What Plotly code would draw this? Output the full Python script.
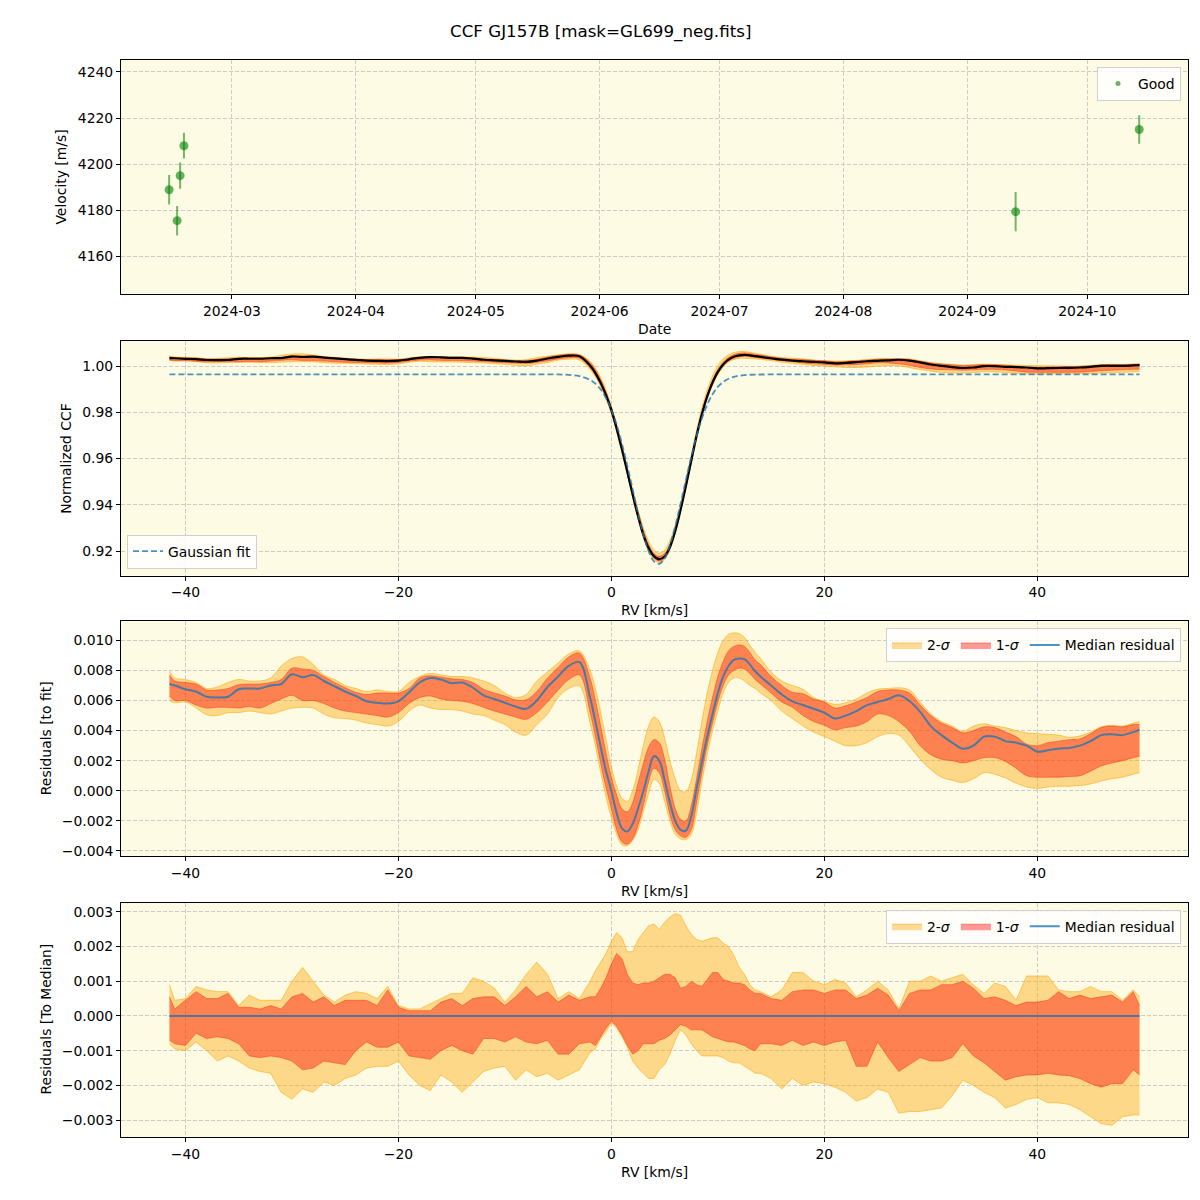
import numpy as np
import plotly.graph_objects as go

# ---------------- Panel 1: radial velocities ----------------
obs_dates = ["2024-02-14 07:00", "2024-02-16 07:00", "2024-02-17 01:00",
             "2024-02-18 00:00", "2024-09-13 02:00", "2024-10-14 00:00"]
obs_vel = [4188.9, 4175.5, 4195.0, 4208.0, 4179.4, 4215.0]
obs_err = [6.4, 6.4, 5.7, 5.6, 8.5, 6.2]

# ---------------- RV grid (km/s) ----------------
rv = [-41.5, -41, -40, -39, -38, -37, -36, -35, -34, -33, -32, -31, -30, -29, -28,
      -27, -26, -25, -24, -23, -22, -21, -20, -19, -18, -17, -16, -15, -14, -13,
      -12, -11, -10, -9, -8, -7, -6, -5, -4, -3, -2, -1.5, -1, -0.5, 0, 0.5, 1,
      1.5, 2, 2.5, 3, 3.5, 4, 4.5, 5, 5.5, 6, 6.5, 7, 7.5, 8, 8.5, 9, 9.5, 10,
      10.5, 11, 11.5, 12, 12.5, 13, 13.5, 14, 15, 16, 17, 18, 19, 20, 21, 22, 23,
      24, 25, 26, 27, 28, 29, 30, 31, 32, 33, 34, 35, 36, 37, 38, 39, 40, 41, 42,
      43, 44, 45, 46, 47, 48, 49, 49.6]

# Gaussian fit of the CCF
gauss_fit = [0.9964, 0.9964, 0.9964, 0.9964, 0.9964, 0.9964, 0.9964, 0.9964, 0.9964, 0.9964,
             0.9964, 0.9964, 0.9964, 0.9964, 0.9964, 0.9964, 0.9964, 0.9964, 0.9964, 0.9964,
             0.9964, 0.9964, 0.9964, 0.9964, 0.9964, 0.9964, 0.9964, 0.9964, 0.9964, 0.9964,
             0.9964, 0.9964, 0.9964, 0.9964, 0.9964, 0.9964, 0.9964, 0.9964,
             0.99622, 0.99569, 0.99405, 0.99240, 0.98986, 0.98617, 0.98110, 0.97447,
             0.96631, 0.95686, 0.94664, 0.93644, 0.92722, 0.91997, 0.91553, 0.91447,
             0.91692, 0.92257, 0.93073, 0.94047, 0.95078, 0.96077, 0.96975, 0.97732,
             0.98331, 0.98781, 0.99100, 0.99314, 0.99452, 0.99536, 0.99585, 0.99612,
             0.99627, 0.99634, 0.99637,
             0.9964, 0.9964, 0.9964, 0.9964, 0.9964, 0.9964, 0.9964, 0.9964, 0.9964, 0.9964,
             0.9964, 0.9964, 0.9964, 0.9964, 0.9964, 0.9964, 0.9964, 0.9964, 0.9964, 0.9964,
             0.9964, 0.9964, 0.9964, 0.9964, 0.9964, 0.9964, 0.9964, 0.9964, 0.9964, 0.9964,
             0.9964, 0.9964, 0.9964, 0.9964, 0.9964, 0.9964]

# Residuals to fit (units of 1e-3)
res_med = [7.1, 7.0, 6.75, 6.6, 6.25, 6.2, 6.25, 6.75, 6.8, 6.8, 7.0, 7.1, 7.75, 7.55, 7.7,
           7.3, 6.95, 6.6, 6.3, 5.95, 5.85, 5.8, 5.95, 6.55, 7.2, 7.5, 7.4, 7.15, 7.2, 6.85,
           6.35, 6.1, 5.85, 5.6, 5.45, 6.0, 6.9, 7.6, 8.3, 8.55, 6.2, 4.6, 2.9, 1.3, 0.0,
           -1.5, -2.5, -2.7, -2.2, -1.2, -0.05, 1.3, 2.3, 2.0, 0.7, -0.8, -2.0, -2.6, -2.65,
           -1.7, 0.15, 1.9, 3.6, 5.1, 6.5, 7.6, 8.3, 8.7, 8.8, 8.75, 8.4, 7.95, 7.6,
           7.0, 6.4, 5.95, 5.7, 5.45, 5.2, 4.8, 5.0, 5.3, 5.7, 5.9, 6.1, 6.35, 5.95, 5.25,
           4.3, 3.7, 3.2, 2.8, 3.0, 3.6, 3.6, 3.3, 3.2, 3.0, 2.6, 2.7, 2.8, 2.85, 3.0, 3.3,
           3.7, 3.75, 3.7, 3.9, 4.05]
res_1s_hi = [7.7, 7.3, 7.2, 7.1, 6.7, 6.7, 6.8, 7.05, 7.1, 7.1, 7.2, 7.4, 8.15, 8.1, 8.0,
             7.6, 7.2, 6.85, 6.55, 6.4, 6.5, 6.5, 6.5, 6.8, 7.5, 7.65, 7.55, 7.45, 7.4, 7.2,
             6.75, 6.5, 6.3, 6.05, 6.05, 6.6, 7.5, 8.2, 8.9, 9.15, 7.5, 6.0, 4.3, 2.5, 0.9,
             -0.3, -1.2, -1.4, -0.8, 0.5, 1.8, 2.9, 3.4, 3.2, 2.1, 0.3, -1.2, -1.9, -2.0,
             -1.0, 0.8, 2.8, 4.6, 6.2, 7.6, 8.6, 9.3, 9.6, 9.7, 9.6, 9.2, 8.7, 8.4,
             7.6, 7.0, 6.55, 6.45, 6.1, 5.9, 5.5, 5.65, 5.9, 6.2, 6.6, 6.7, 6.7, 6.5, 5.7,
             5.0, 4.5, 4.2, 3.85, 4.0, 4.25, 4.2, 3.9, 3.6, 3.1, 3.0, 3.2, 3.3, 3.4, 3.45,
             3.8, 4.2, 4.3, 4.25, 4.4, 4.4]
res_1s_lo = [6.3, 6.0, 6.0, 5.7, 5.5, 5.55, 5.55, 5.5, 5.6, 5.5, 5.8, 6.1, 6.35, 6.0, 6.0,
             5.8, 5.5, 5.3, 5.2, 5.1, 5.0, 4.9, 5.2, 5.8, 6.2, 6.3, 6.1, 6.0, 5.95, 5.8,
             5.55, 5.3, 5.1, 4.9, 4.75, 5.2, 5.9, 6.7, 7.4, 7.7, 5.2, 3.6, 1.8, 0.2, -1.2,
             -2.6, -3.4, -3.55, -3.2, -2.3, -1.0, 0.6, 1.5, 1.2, 0.0, -1.6, -2.6, -3.0, -3.1,
             -2.6, -0.8, 1.2, 3.0, 4.5, 5.9, 7.0, 7.7, 8.0, 8.15, 8.1, 7.8, 7.4, 7.1,
             6.5, 5.9, 5.55, 5.0, 4.6, 4.35, 4.05, 4.2, 4.3, 4.6, 5.1, 5.0, 4.6, 3.95, 3.0,
             2.4, 2.1, 2.0, 1.85, 2.0, 2.2, 2.2, 1.95, 1.5, 1.0, 0.9, 0.9, 0.9, 0.95, 1.0,
             1.3, 1.65, 1.85, 2.0, 2.2, 2.3]
res_2s_hi = [8.0, 7.5, 7.4, 7.2, 6.8, 6.9, 7.2, 7.4, 7.3, 7.3, 7.5, 8.3, 8.8, 8.9, 8.4,
             7.7, 7.4, 7.0, 6.8, 6.6, 6.7, 6.6, 6.6, 7.2, 7.6, 7.8, 7.7, 7.6, 7.6, 7.5,
             7.3, 7.0, 6.5, 6.2, 6.4, 7.3, 7.9, 8.5, 9.1, 9.3, 8.0, 6.8, 5.2, 3.4, 1.6,
             0.3, -0.5, -0.7, 0.0, 1.4, 3.0, 4.3, 4.9, 4.6, 3.5, 2.0, 0.8, 0.0, -0.05,
             0.7, 2.5, 4.6, 6.5, 8.0, 9.2, 10.0, 10.4, 10.5, 10.45, 10.2, 9.7, 9.2, 8.8,
             7.9, 7.3, 7.0, 6.75, 6.2, 5.95, 5.75, 5.85, 6.1, 6.5, 6.75, 6.8, 6.85, 6.7, 5.9,
             5.1, 4.6, 4.3, 3.95, 4.3, 4.45, 4.3, 4.2, 4.0, 3.85, 3.8, 3.75, 3.7, 3.55, 3.65,
             3.9, 4.25, 4.35, 4.3, 4.5, 4.6]
res_2s_lo = [6.0, 5.85, 5.9, 5.5, 5.05, 5.0, 5.2, 5.2, 5.3, 5.2, 5.1, 5.3, 5.5, 5.55, 5.5,
             5.1, 4.85, 4.8, 4.7, 4.5, 4.4, 4.3, 4.6, 5.3, 5.7, 5.5, 5.4, 5.4, 5.3, 5.1,
             5.0, 4.7, 4.4, 3.9, 3.7, 4.4, 5.1, 6.2, 6.8, 6.95, 4.5, 3.0, 1.2, -0.4, -1.8,
             -2.9, -3.6, -3.65, -3.3, -2.6, -1.4, -0.2, 0.75, 0.5, -0.7, -2.0, -2.9, -3.2, -3.25,
             -2.9, -1.5, 0.6, 2.4, 4.0, 5.3, 6.5, 7.2, 7.5, 7.5, 7.3, 7.0, 6.8, 6.5,
             6.0, 5.3, 4.8, 4.3, 3.9, 3.6, 3.3, 3.0, 3.0, 3.2, 3.6, 3.8, 3.7, 2.95, 2.1,
             1.4, 0.9, 0.7, 0.55, 0.8, 1.2, 1.1, 0.85, 0.5, 0.25, 0.15, 0.25, 0.3, 0.3, 0.35,
             0.45, 0.65, 0.8, 0.9, 1.1, 1.2]

# Residuals to the median (units of 1e-3)
dev_2s_hi = [0.9, 0.45, 0.5, 0.85, 0.75, 0.7, 0.7, 0.3, 0.6, 0.45, 0.45, 0.45, 1.0, 1.4, 1.0,
             0.6, 0.4, 0.6, 0.7, 0.65, 0.5, 0.85, 0.3, 0.2, 0.2, 0.35, 0.5, 0.65, 0.65, 1.1,
             1.0, 0.8, 0.4, 0.75, 1.2, 1.55, 1.2, 0.5, 0.7, 0.5, 1.0, 1.3, 1.55, 1.8, 2.15,
             2.4, 2.25, 1.85, 1.85, 2.2, 2.4, 2.6, 2.65, 2.5, 2.7, 2.85, 2.95, 2.9, 2.6,
             2.35, 2.2, 2.15, 2.2, 2.25, 2.25, 2.1, 2.0, 1.75, 1.4, 1.2, 0.9, 0.75, 0.7,
             0.55, 0.75, 1.25, 1.25, 1.0, 0.9, 1.05, 0.95, 0.55, 0.75, 1.0, 0.75, 0.2, 1.0, 1.0,
             1.15, 1.0, 1.1, 1.2, 0.9, 0.65, 0.95, 0.85, 0.45, 1.15, 1.15, 1.15, 0.75, 0.7, 0.7,
             0.85, 0.7, 0.7, 0.45, 0.75, 0.55]
dev_1s_hi = [0.55, 0.2, 0.45, 0.7, 0.5, 0.5, 0.65, 0.25, 0.25, 0.2, 0.3, 0.2, 0.55, 0.65, 0.4,
             0.55, 0.3, 0.45, 0.45, 0.45, 0.3, 0.75, 0.25, 0.15, 0.15, 0.15, 0.4, 0.5, 0.3, 0.5,
             0.55, 0.55, 0.3, 0.55, 0.85, 0.55, 0.7, 0.4, 0.6, 0.45, 0.55, 0.55, 0.8, 1.1, 1.5,
             1.8, 1.65, 1.2, 0.95, 0.9, 0.95, 0.95, 1.0, 1.1, 1.2, 1.2, 1.1, 0.8, 0.85,
             1.0, 0.9, 0.85, 1.05, 1.25, 1.25, 1.05, 1.0, 0.95, 0.95, 0.9, 0.75, 0.65, 0.65,
             0.5, 0.45, 0.7, 0.75, 0.75, 0.65, 0.75, 0.75, 0.5, 0.6, 0.8, 0.6, 0.15, 0.65, 0.75,
             0.75, 0.9, 0.9, 1.0, 0.8, 0.5, 0.55, 0.45, 0.3, 0.4, 0.4, 0.45, 0.7, 0.5, 0.6,
             0.5, 0.55, 0.6, 0.4, 0.7, 0.3]
dev_1s_lo = [-0.7, -0.8, -0.85, -0.5, -0.65, -0.6, -0.65, -0.8, -1.15, -1.2, -1.15, -1.2, -1.3, -1.55, -1.5,
             -1.3, -1.35, -1.4, -1.0, -0.75, -0.9, -0.9, -0.75, -1.15, -1.2, -1.25, -1.0, -0.85, -1.0, -1.1,
             -0.65, -0.65, -0.75, -0.6, -0.75, -0.8, -0.7, -1.1, -1.1, -0.8, -0.75, -0.85, -0.6, -0.35, -0.15,
             -0.3, -0.55, -0.85, -1.1, -1.0, -0.8, -0.8, -0.8, -0.7, -0.65, -0.55, -0.4, -0.25, -0.3,
             -0.4, -0.4, -0.4, -0.5, -0.6, -0.65, -0.7, -0.75, -0.75, -0.8, -0.85, -0.95, -1.0, -0.8,
             -0.8, -0.85, -0.7, -0.85, -0.75, -0.85, -0.75, -0.7, -1.45, -1.45, -0.75, -1.2, -1.6, -1.4, -1.2,
             -1.3, -1.3, -1.2, -0.8, -1.15, -1.35, -1.6, -1.85, -1.75, -1.7, -1.7, -1.65, -1.7, -1.72, -1.8,
             -1.95, -2.05, -1.95, -1.95, -1.55, -1.7]
dev_2s_lo = [-0.8, -0.95, -1.0, -0.75, -1.0, -1.3, -1.15, -1.3, -1.5, -1.6, -1.65, -2.2, -2.4, -2.1, -2.2,
             -1.9, -2.0, -1.8, -1.7, -1.5, -1.45, -1.45, -1.3, -1.7, -2.0, -2.15, -1.7, -1.9, -2.2, -1.9,
             -1.6, -1.5, -1.45, -1.85, -1.55, -1.75, -1.65, -1.85, -1.7, -1.55, -1.05, -0.95, -0.65, -0.45, -0.2,
             -0.35, -0.6, -0.9, -1.3, -1.5, -1.65, -1.8, -1.8, -1.55, -1.4, -1.1, -0.7, -0.4, -0.55,
             -0.8, -1.0, -1.15, -1.15, -1.15, -1.15, -1.2, -1.3, -1.35, -1.35, -1.45, -1.55, -1.65, -1.65,
             -1.8, -2.1, -1.8, -2.0, -1.9, -1.95, -2.05, -2.2, -2.45, -2.35, -2.1, -2.2, -2.8, -2.75, -2.75,
             -2.7, -2.65, -2.3, -1.85, -2.0, -2.2, -2.35, -2.65, -2.55, -2.4, -2.35, -2.5, -2.5, -2.55, -2.7,
             -2.9, -3.1, -3.15, -2.9, -2.85, -2.85]

# Tick labels
rv_ticks = [-40, -20, 0, 20, 40]
rv_ticktext = ["\u221240", "\u221220", "0", "20", "40"]
vel_ticks = [4160, 4180, 4200, 4220, 4240]
ccf_ticks = [0.92, 0.94, 0.96, 0.98, 1.00]
ccf_ticktext = ["0.92", "0.94", "0.96", "0.98", "1.00"]
res_ticks = [-0.004, -0.002, 0.0, 0.002, 0.004, 0.006, 0.008, 0.010]
res_ticktext = ["\u22120.004", "\u22120.002", "0.000", "0.002", "0.004", "0.006", "0.008", "0.010"]
dev_ticks = [-0.003, -0.002, -0.001, 0.0, 0.001, 0.002, 0.003]
dev_ticktext = ["\u22120.003", "\u22120.002", "\u22120.001", "0.000", "0.001", "0.002", "0.003"]

# ---------------- derived arrays ----------------
x = np.array(rv)
fit = np.array(gauss_fit)
scale = 1e-3
m = np.array(res_med) * scale
h1 = np.array(res_1s_hi) * scale
l1 = np.array(res_1s_lo) * scale
h2 = np.array(res_2s_hi) * scale
l2 = np.array(res_2s_lo) * scale
d_h1 = np.array(dev_1s_hi) * scale
d_l1 = np.array(dev_1s_lo) * scale
d_h2 = np.array(dev_2s_hi) * scale
d_l2 = np.array(dev_2s_lo) * scale
d_med = m - m

# ---------------- styling ----------------
BG = "rgb(253,251,228)"
FONT = "DejaVu Sans, Verdana, sans-serif"
FS = 13.9
C2_FILL = "rgba(255,165,0,0.4)"
C2_LINE = "rgba(255,165,0,0.55)"
C1_FILL = "rgba(255,0,0,0.4)"
C1_LINE = "rgba(240,60,20,0.5)"
BLUE = "rgba(31,119,180,0.8)"
GREEN = "rgba(0,128,0,0.6)"

fig = go.Figure()


def add_band(lo, hi, xa, ya, fillc, linec, name, legend, show, shape):
    fig.add_trace(go.Scatter(x=x, y=lo, mode="lines", line=dict(color=linec, width=1, shape=shape),
                             xaxis=xa, yaxis=ya, showlegend=False, hoverinfo="skip"))
    fig.add_trace(go.Scatter(x=x, y=hi, mode="lines", line=dict(color=linec, width=1, shape=shape),
                             fill="tonexty", fillcolor=fillc, xaxis=xa, yaxis=ya,
                             name=name, legend=legend, showlegend=show, hoverinfo="skip"))


# Panel 1
fig.add_trace(go.Scatter(
    x=obs_dates, y=obs_vel, mode="markers", name="Good", showlegend=False,
    marker=dict(color=GREEN, size=9),
    error_y=dict(type="data", array=obs_err, color="rgba(0,128,0,0.55)", thickness=2, width=0),
    xaxis="x", yaxis="y"))
fig.add_trace(go.Scatter(
    x=[None], y=[None], mode="markers", name="Good",
    marker=dict(color=GREEN, size=5), xaxis="x", yaxis="y", legend="legend"))

# Panel 2
add_band(fit + l2, fit + h2, "x2", "y2", C2_FILL, C2_LINE, "2-σ", "legend2", False, "spline")
add_band(fit + l1, fit + h1, "x2", "y2", C1_FILL, C1_LINE, "1-σ", "legend2", False, "spline")
fig.add_trace(go.Scatter(x=x, y=fit + m, mode="lines", line=dict(color="black", width=2.2, shape="spline"),
                         xaxis="x2", yaxis="y2", showlegend=False))
fig.add_trace(go.Scatter(x=x, y=fit, mode="lines", name="Gaussian fit",
                         line=dict(color=BLUE, width=1.8, dash="6px,3px", shape="spline"),
                         xaxis="x2", yaxis="y2", legend="legend2"))

# Panel 3
add_band(l2, h2, "x3", "y3", C2_FILL, C2_LINE, "2-<i>σ</i>", "legend3", True, "spline")
add_band(l1, h1, "x3", "y3", C1_FILL, C1_LINE, "1-<i>σ</i>", "legend3", True, "spline")
fig.add_trace(go.Scatter(x=x, y=m, mode="lines", name="Median residual",
                         line=dict(color=BLUE, width=2, shape="spline"),
                         xaxis="x3", yaxis="y3", legend="legend3"))

# Panel 4
add_band(d_l2, d_h2, "x4", "y4", C2_FILL, C2_LINE, "2-<i>σ</i>", "legend4", True, "linear")
add_band(d_l1, d_h1, "x4", "y4", C1_FILL, C1_LINE, "1-<i>σ</i>", "legend4", True, "linear")
fig.add_trace(go.Scatter(x=x, y=d_med, mode="lines", name="Median residual",
                         line=dict(color=BLUE, width=2),
                         xaxis="x4", yaxis="y4", legend="legend4"))

# ---------------- layout ----------------
OFF = 8.0          # page body margin in the browser
W = H = 1192.0     # figure size so that the page fits in 1200 px


def PX(px):
    return (px - OFF) / W


def PY(py):
    return 1 - (py - OFF) / H


xl, xr = PX(121), PX(1188)


def ydom(top, bottom):
    return [PY(bottom), PY(top)]


axis_common = dict(showline=True, linecolor="black", linewidth=1, mirror=True,
                   ticks="outside", ticklen=4, tickcolor="black", tickwidth=1,
                   showgrid=True, gridcolor="#cccccc", griddash="4px,2px", gridwidth=1,
                   zeroline=False, tickfont=dict(size=FS, color="black", family=FONT))

rv_range = [-46.05, 54.15]
legend_common = dict(bgcolor="rgba(255,255,255,0.8)", bordercolor="#d0d0d0", borderwidth=1,
                     font=dict(size=FS), traceorder="normal")

layout = dict(
    width=int(W), height=int(H), paper_bgcolor="white", plot_bgcolor=BG,
    margin=dict(l=0, r=0, t=0, b=0),
    font=dict(family=FONT, size=FS, color="black"),
    xaxis=dict(axis_common, domain=[xl, xr], anchor="y", type="date",
               range=["2024-02-02 06:00", "2024-10-26 05:00"],
               tick0="2024-03-01", dtick="M1", tickformat="%Y-%m"),
    yaxis=dict(axis_common, domain=ydom(60, 295), anchor="x", range=[4143.6, 4245.2],
               tickvals=vel_ticks),
    xaxis2=dict(axis_common, domain=[xl, xr], anchor="y2", range=rv_range,
                tickvals=rv_ticks, ticktext=rv_ticktext),
    yaxis2=dict(axis_common, domain=ydom(342, 577), anchor="x2", range=[0.9094, 1.0108],
                tickvals=ccf_ticks, ticktext=ccf_ticktext),
    xaxis3=dict(axis_common, domain=[xl, xr], anchor="y3", range=rv_range,
                tickvals=rv_ticks, ticktext=rv_ticktext),
    yaxis3=dict(axis_common, domain=ydom(623, 858), anchor="x3", range=[-0.00433, 0.01126],
                tickvals=res_ticks, ticktext=res_ticktext),
    xaxis4=dict(axis_common, domain=[xl, xr], anchor="y4", range=rv_range,
                tickvals=rv_ticks, ticktext=rv_ticktext),
    yaxis4=dict(axis_common, domain=ydom(905, 1140), anchor="x4", range=[-0.00349, 0.00326],
                tickvals=dev_ticks, ticktext=dev_ticktext),
    legend=dict(legend_common, x=PX(1181), y=PY(67), xanchor="right", yanchor="top"),
    legend2=dict(legend_common, x=PX(127), y=PY(570), xanchor="left", yanchor="bottom"),
    legend3=dict(legend_common, x=PX(1181), y=PY(630), xanchor="right", yanchor="top",
                 orientation="h"),
    legend4=dict(legend_common, x=PX(1181), y=PY(912), xanchor="right", yanchor="top",
                 orientation="h"),
    showlegend=True,
)
fig.update_layout(layout)

ann = [
    dict(text="CCF GJ157B [mask=GL699_neg.fits]", x=600, y=32, size=16.7, angle=0),
    dict(text="Date", x=654, y=330, size=FS, angle=0),
    dict(text="RV [km/s]", x=654, y=612, size=FS, angle=0),
    dict(text="RV [km/s]", x=654, y=893, size=FS, angle=0),
    dict(text="RV [km/s]", x=654, y=1175, size=FS, angle=0),
    dict(text="Velocity [m/s]", x=61, y=178, size=FS, angle=-90),
    dict(text="Normalized CCF", x=66, y=460, size=FS, angle=-90),
    dict(text="Residuals [to fit]", x=46, y=740, size=FS, angle=-90),
    dict(text="Residuals [To Median]", x=46, y=1022, size=FS, angle=-90),
]
for a in ann:
    fig.add_annotation(text=a["text"], x=PX(a["x"]), y=PY(a["y"]), xref="paper", yref="paper",
                       xanchor="center", yanchor="middle", showarrow=False,
                       textangle=a["angle"], font=dict(size=a["size"], color="black", family=FONT))

fig.write_html("out.html")
